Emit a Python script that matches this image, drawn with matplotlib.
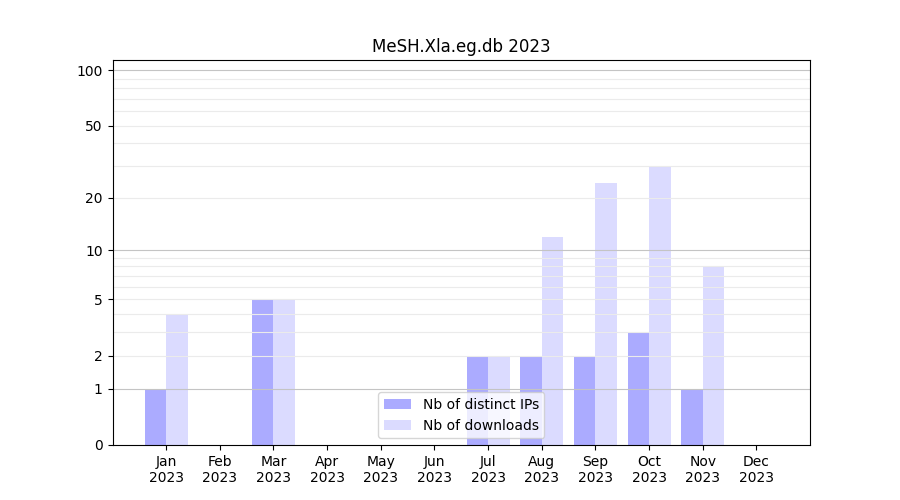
import numpy as np
import matplotlib
matplotlib.use('Agg')
import matplotlib.pyplot as plt
from matplotlib.ticker import FixedLocator, NullFormatter

months = ['Jan', 'Feb', 'Mar', 'Apr', 'May', 'Jun',
          'Jul', 'Aug', 'Sep', 'Oct', 'Nov', 'Dec']
year = '2023'
distinct_ips = [1, 0, 5, 0, 0, 0, 2, 2, 2, 3, 1, 0]
downloads = [4, 0, 5, 0, 0, 0, 2, 12, 24, 30, 8, 0]
major_ticks = [0, 1, 2, 5, 10, 20, 50, 100]
grid_major = [1, 10, 100]
grid_minor = [2, 3, 4, 5, 6, 7, 8, 9, 20, 30, 40, 50, 60, 70, 80, 90]


def fwd(x):
  return np.log10(1 + np.clip(x, 0, None))


def inv(y):
  return 10 ** y - 1


def main():
  fig, ax = plt.subplots(figsize=(9, 5), dpi=100)
  x = np.arange(1, len(months) + 1)
  ax.set_yscale('function', functions=(fwd, inv))
  ax.bar(x - 0.2, distinct_ips, width=0.4, color='blue', alpha=0.33,
         label='Nb of distinct IPs')
  ax.bar(x + 0.2, downloads, width=0.4, color='blue', alpha=0.14,
         label='Nb of downloads')
  ax.set_xlim(0, 13)
  ax.set_ylim(0, inv(2.058))
  ax.set_xticks(x)
  ax.set_xticklabels(['%s\n%s' % (m, year) for m in months])
  ax.yaxis.set_major_locator(FixedLocator(major_ticks))
  ax.set_yticklabels([str(t) for t in major_ticks])
  ax.yaxis.set_minor_locator(FixedLocator([]))
  for v in grid_minor:
    ax.axhline(v, color='#ebebeb', linewidth=0.8, zorder=1.5)
  for v in grid_major:
    ax.axhline(v, color='#c4c4c4', linewidth=0.8, zorder=1.5)
  ax.set_title('MeSH.Xla.eg.db 2023')
  ax.legend(loc='lower center')
  fig.savefig('out.png')


if __name__ == '__main__':
  main()
